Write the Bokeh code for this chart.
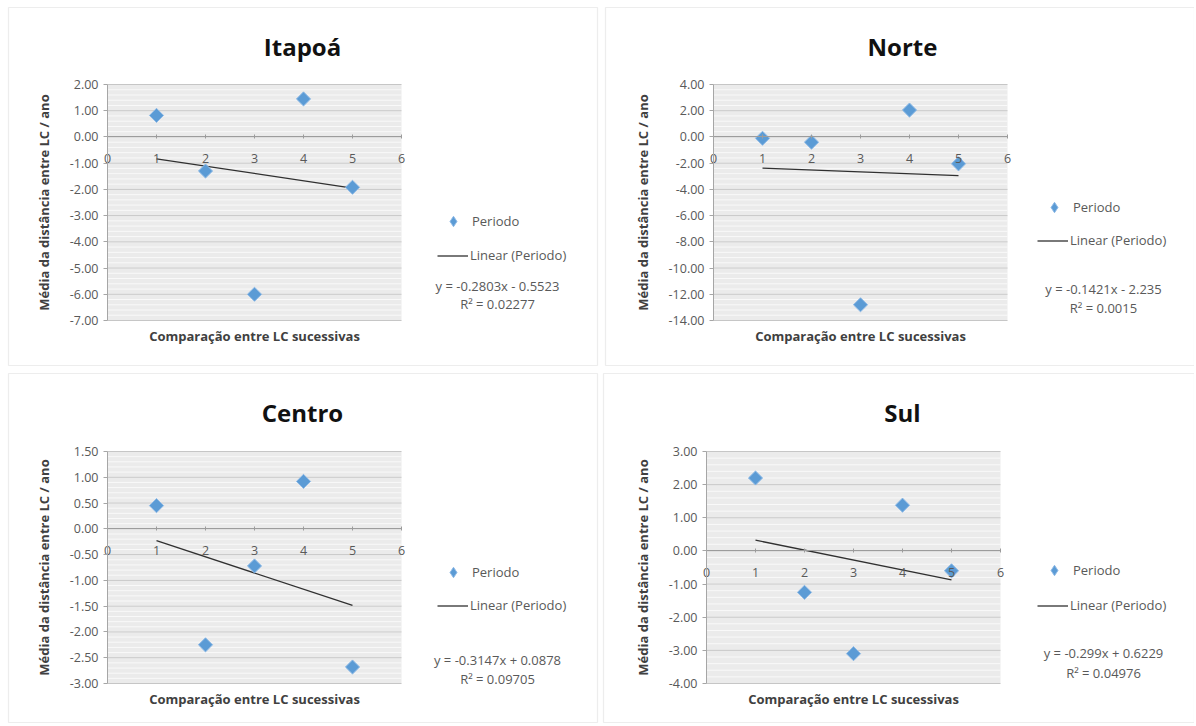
import numpy as np
from bokeh.plotting import figure
from bokeh.layouts import row, column
from bokeh.models import (Label, Legend, LegendItem, Range1d, SingleIntervalTicker,
                          FixedTicker, NumeralTickFormatter, LinearAxis, BoxAnnotation)
from bokeh.embed import file_html
from bokeh.resources import INLINE

# ---------------- data ----------------
titles = ["Itapoá", "Norte", "Centro", "Sul"]
x_vals = [1, 2, 3, 4, 5]
itapoa_y = [0.82, -1.30, -6.00, 1.45, -1.92]
norte_y = [-0.10, -0.40, -12.80, 2.05, -2.05]
centro_y = [0.45, -2.25, -0.72, 0.92, -2.68]
sul_y = [2.20, -1.25, -3.10, 1.38, -0.60]
series = [itapoa_y, norte_y, centro_y, sul_y]
trend_slopes = [-0.2803, -0.1421, -0.3147, -0.299]
trend_intercepts = [-0.5523, -2.235, 0.0878, 0.6229]
eq_texts = ["y = -0.2803x - 0.5523", "y = -0.1421x - 2.235",
            "y = -0.3147x + 0.0878", "y = -0.299x + 0.6229"]
r2_texts = ["R² = 0.02277", "R² = 0.0015", "R² = 0.09705", "R² = 0.04976"]
y_axis_min = [-7, -14, -3, -4]
y_axis_max = [2, 4, 1.5, 3]
y_axis_step = [1, 2, 0.5, 1]
x_axis_min, x_axis_max = 0, 6
x_ticks = [0, 1, 2, 3, 4, 5, 6]
x_axis_title = "Comparação entre LC sucessivas"
y_axis_title = "Média da distância entre LC / ano"
legend_labels = ["Periodo", "Linear (Periodo)"]

# ---------------- layout (page pixels) ----------------
FONT = "Open Sans"
canvas_origin = [(0, 0), (600, 0), (0, 369), (600, 369)]
canvas_size = [(600, 369), (594, 369), (600, 355), (594, 355)]
border_abs = [(8, 597, 7, 365), (605, 1194, 7, 365),
              (8, 597, 373, 722), (603, 1194, 373, 722)]
frame_abs = [(107, 401, 84, 320), (713, 1007, 84, 320),
             (107, 401, 451, 683), (706, 1000, 451, 683)]
ylabel_standoff = [14, 14, 14, 14]
title_pos = [(302, 46), (902, 46), (302, 412), (902, 412)]
xtitle_y = [335, 335, 698, 698]
diamond_pos = [(453, 221), (1054, 207), (453, 572), (1054, 570)]
line_leg_pos = [(437, 255), (1037, 240), (437, 605), (1037, 605)]
eq_pos = [(497, 285), (1103, 288), (497, 659), (1103, 652)]
r2_y = [303, 307, 678, 672]

MARKER_FILL = "#5b9bd5"
MARKER_LINE = "#8db9e6"
TEXT_GREY = "#595959"


def make_panel(i):
    ox, oy = canvas_origin[i]
    W, H = canvas_size[i]
    fl, fr, ft, fb = frame_abs[i]
    ymin, ymax, ystep = y_axis_min[i], y_axis_max[i], y_axis_step[i]

    # plot area occupies only part of the canvas: extend ranges accordingly
    sx = (fr - fl) / (x_axis_max - x_axis_min)
    sy = (fb - ft) / (ymax - ymin)
    x0 = x_axis_min - (fl - ox) / sx
    x1 = x_axis_max + (ox + W - fr) / sx
    y0 = ymin - (oy + H - fb) / sy
    y1 = ymax + (ft - oy) / sy

    def dx(X):
        return x0 + (X - ox) / sx

    def dy(Y):
        return y1 - (Y - oy) / sy

    p = figure(width=W, height=H, output_backend="svg", toolbar_location=None,
               title=None, x_axis_type=None, y_axis_type=None,
               x_range=Range1d(x0, x1), y_range=Range1d(y0, y1),
               min_border=0, background_fill_color="white",
               border_fill_color="white", outline_line_color=None)

    # panel border and plot-area background
    bl, br, bt, bb = border_abs[i]
    p.add_layout(BoxAnnotation(left=dx(bl), right=dx(br), top=dy(bt), bottom=dy(bb),
                               fill_alpha=0, line_color="#c4c4c4", line_width=1.2,
                               level="underlay"))
    p.add_layout(BoxAnnotation(left=x_axis_min, right=x_axis_max, bottom=ymin, top=ymax,
                               fill_color="#ebebeb", fill_alpha=1, line_color=None,
                               level="underlay"))

    # gridlines (minor every step/5, major every step)
    minor_levels = np.arange(ymin, ymax + ystep / 10, ystep / 5)
    major_levels = np.arange(ymin, ymax + ystep / 10, ystep)
    p.segment(x0=x_axis_min, x1=x_axis_max, y0=minor_levels, y1=minor_levels,
              line_color="#f9f9f9", line_width=1)
    p.segment(x0=x_axis_min, x1=x_axis_max, y0=major_levels, y1=major_levels,
              line_color="#c6c6c6", line_width=1)

    # axes
    xa = LinearAxis(fixed_location=0, bounds=(x_axis_min, x_axis_max),
                    ticker=FixedTicker(ticks=x_ticks))
    xa.major_tick_in = 2
    xa.major_tick_out = 2
    xa.minor_tick_in = 0
    xa.minor_tick_out = 0
    xa.axis_line_color = "#9c9c9c"
    xa.major_tick_line_color = "#9c9c9c"
    xa.major_label_standoff = 15
    xa.major_label_text_font = FONT
    xa.major_label_text_font_size = "12.5px"
    xa.major_label_text_color = TEXT_GREY
    p.add_layout(xa, "below")

    ya = LinearAxis(fixed_location=x_axis_min, bounds=(ymin, ymax),
                    ticker=SingleIntervalTicker(interval=ystep, num_minor_ticks=5),
                    formatter=NumeralTickFormatter(format="0.00"))
    ya.major_tick_in = 0
    ya.major_tick_out = 4
    ya.minor_tick_in = 0
    ya.minor_tick_out = 0
    ya.axis_line_color = "#a6a6a6"
    ya.major_tick_line_color = "#a6a6a6"
    ya.major_label_standoff = 5
    ya.major_label_text_font = FONT
    ya.major_label_text_font_size = "12.5px"
    ya.major_label_text_color = TEXT_GREY
    ya.axis_label = y_axis_title
    ya.axis_label_standoff = ylabel_standoff[i]
    ya.axis_label_text_font = FONT
    ya.axis_label_text_font_style = "bold"
    ya.axis_label_text_font_size = "13px"
    ya.axis_label_text_color = "#404040"
    p.add_layout(ya, "left")

    # trend line from the displayed equation
    tx = [min(x_vals), max(x_vals)]
    ty = [trend_slopes[i] * x + trend_intercepts[i] for x in tx]
    ln = p.line(tx, ty, line_color="#303030", line_width=1.3)

    p.scatter(x_vals, series[i], marker="square", angle=np.pi / 4, size=10,
              fill_color=MARKER_FILL, line_color=MARKER_LINE, line_width=1)
    # legend swatch renderer (no data drawn; only its diamond glyph is used by the legend)
    swatch = p.scatter([np.nan], [np.nan], marker="diamond",
                       fill_color=MARKER_FILL, line_color=MARKER_LINE, line_width=1)

    # legends (two single-item legends), location in canvas pixels from bottom-left
    def vx(X):
        return X - ox

    def vy(Y):
        return oy + H - Y

    ddx, ddy = diamond_pos[i]
    gw = 26
    leg1 = Legend(items=[LegendItem(label=legend_labels[0], renderers=[swatch])],
                  location=(vx(ddx - gw / 2), vy(ddy) - gw / 2),
                  glyph_width=gw, glyph_height=gw, label_height=gw,
                  label_standoff=6, padding=0, margin=0, spacing=0,
                  background_fill_alpha=0, border_line_alpha=0,
                  label_text_font=FONT, label_text_font_size="13px",
                  label_text_color=TEXT_GREY)
    lx, lyy = line_leg_pos[i]
    lh = 19
    leg2 = Legend(items=[LegendItem(label=legend_labels[1], renderers=[ln])],
                  location=(vx(lx), vy(lyy) - lh / 2),
                  glyph_width=31, glyph_height=lh, label_height=lh,
                  label_standoff=2, padding=0, margin=0, spacing=0,
                  background_fill_alpha=0, border_line_alpha=0,
                  label_text_font=FONT, label_text_font_size="13px",
                  label_text_color=TEXT_GREY)
    p.add_layout(leg1, "center")
    p.add_layout(leg2, "center")

    # texts
    tx0, ty0 = title_pos[i]
    p.add_layout(Label(x=dx(tx0), y=dy(ty0), text=titles[i], text_align="center",
                       text_baseline="middle", text_font=FONT, text_font_style="bold",
                       text_font_size="24px", text_color="#111111"))
    p.add_layout(Label(x=(x_axis_min + x_axis_max) / 2, y=dy(xtitle_y[i]),
                       text=x_axis_title, text_align="center", text_baseline="middle",
                       text_font=FONT, text_font_style="bold", text_font_size="13px",
                       text_color="#404040"))
    ex, ey = eq_pos[i]
    p.add_layout(Label(x=dx(ex), y=dy(ey), text=eq_texts[i], text_align="center",
                       text_baseline="middle", text_font=FONT, text_font_size="13px",
                       text_color=TEXT_GREY))
    p.add_layout(Label(x=dx(ex), y=dy(r2_y[i]), text=r2_texts[i], text_align="center",
                       text_baseline="middle", text_font=FONT, text_font_size="13px",
                       text_color=TEXT_GREY))
    return p


panels = [make_panel(i) for i in range(4)]
layout = column(row(panels[0], panels[1], spacing=0),
                row(panels[2], panels[3], spacing=0), spacing=0)

with open("out.html", "w") as f:
    f.write(file_html(layout, INLINE))
